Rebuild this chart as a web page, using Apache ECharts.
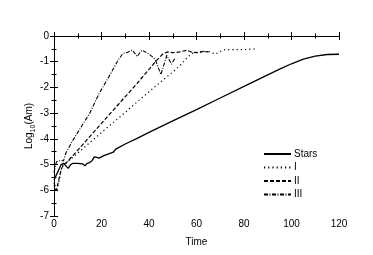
<!DOCTYPE html>
<html><head><meta charset="utf-8">
<script src="https://cdn.jsdelivr.net/npm/echarts@6/dist/echarts.min.js"></script>
<style>html,body{margin:0;padding:0;background:#fff}#c{width:373px;height:255px}</style>
</head><body><div id="c"></div>
<script>
var xTicks = [0, 20, 40, 60, 80, 100, 120];
var yTicks = [-7, -6, -5, -4, -3, -2, -1, 0];

var starsT = [0,1,2,3,4,5,6,7,8,10,12,13,14,15,16,17,18,19,21,23,25,26,27,30,35,40,50,60,70,80,90,95,100,105,110,115,120];
var starsY = [-5.6,-5.4,-5.2,-5.0,-4.95,-5.05,-5.15,-5.0,-4.95,-4.95,-4.97,-5.05,-4.95,-4.92,-4.85,-4.7,-4.72,-4.75,-4.65,-4.58,-4.52,-4.4,-4.35,-4.2,-3.98,-3.75,-3.3,-2.86,-2.41,-1.96,-1.51,-1.29,-1.08,-0.9,-0.78,-0.72,-0.71];

var iT = [0,1,2,3,4,5,10,20,30,35,40,45,48,50,53,56,58,60,62,65,68,70,72,75,80,85];
var iY = [-5.8,-6.05,-5.7,-5.2,-4.95,-4.95,-4.55,-3.75,-2.97,-2.56,-2.17,-1.78,-1.55,-1.4,-1.15,-0.85,-0.68,-0.64,-0.62,-0.6,-0.7,-0.6,-0.53,-0.53,-0.53,-0.5];

var iiT = [0,1,2,3,4,5,10,20,25,30,35,40,43,46,48,50,53,56,58,60,63,65];
var iiY = [-5.7,-6.0,-5.6,-5.2,-5.0,-4.95,-4.44,-3.4,-2.88,-2.36,-1.84,-1.3,-0.97,-0.68,-0.62,-0.65,-0.62,-0.55,-0.63,-0.65,-0.6,-0.62];

var iiiT = [0,1,2,3,4,5,8,11,15,19,23,27,29,31,33,35,37,40,42,43,45,47.5,49.5,51];
var iiiY = [-5.3,-4.9,-4.85,-4.85,-4.85,-4.55,-4.05,-3.6,-3.01,-2.24,-1.6,-0.94,-0.68,-0.63,-0.55,-0.8,-0.55,-0.7,-0.85,-1.0,-1.5,-0.75,-1.1,-0.85];

function pairs(t, y) { return t.map(function (v, i) { return [v, y[i]]; }); }

var font = 'Liberation Sans, Arial, sans-serif';
var axLine = { show: true, lineStyle: { color: '#000', width: 1 } };
var tick = { show: true, inside: true, length: 4, lineStyle: { color: '#000' } };
var minor = { show: true, splitNumber: 2, length: 2.5, lineStyle: { color: '#000' } };

var chart = echarts.init(document.getElementById('c'), null, { renderer: 'canvas' });
chart.setOption({
  animation: false,
  backgroundColor: '#fff',
  grid: { left: 54, right: 34, top: 36, bottom: 39, containLabel: false },
  legend: {
    orient: 'vertical', left: 263, top: 149, padding: 0, itemWidth: 27, itemHeight: 10, itemGap: 3.5,
    itemStyle: { opacity: 0, color: 'rgba(0,0,0,0)', borderWidth: 0 },
    textStyle: { fontFamily: font, fontSize: 10, color: '#000', padding: [0, 0, 0, -2] },
    data: ['Stars', 'I', 'II', 'III']
  },
  xAxis: [{
    type: 'value', min: xTicks[0], max: xTicks[xTicks.length - 1], interval: 20,
    name: 'Time', nameLocation: 'middle', nameGap: 21, nameMoveOverlap: false,
    nameTextStyle: { fontFamily: font, fontSize: 10, color: '#000' },
    axisLine: axLine, axisTick: tick, minorTick: minor, splitLine: { show: false },
    axisLabel: { fontFamily: font, fontSize: 10, color: '#000', margin: 3 }
  }, {
    type: 'value', position: 'top', min: 0, max: 120, interval: 20,
    axisLine: axLine, axisTick: tick, minorTick: minor, splitLine: { show: false },
    axisLabel: { show: false }
  }],
  yAxis: [{
    type: 'value', min: yTicks[0], max: yTicks[yTicks.length - 1], interval: 1,
    name: '{a|Log}{s|10}{a|(Am)}', nameLocation: 'middle', nameGap: 20, nameRotate: 90, nameMoveOverlap: false,
    nameTextStyle: { fontFamily: font, fontSize: 10, color: '#000',
      rich: { a: { fontFamily: font, fontSize: 10, color: '#000' },
              s: { fontFamily: font, fontSize: 7, color: '#000', verticalAlign: 'bottom', padding: [0, 0, -3, 0] } } },
    axisLine: axLine, axisTick: tick, minorTick: minor, splitLine: { show: false },
    axisLabel: { fontFamily: font, fontSize: 10, color: '#000', margin: 5 }
  }, {
    type: 'value', position: 'right', min: -7, max: 0, interval: 1,
    axisLine: axLine, axisTick: tick, minorTick: minor, splitLine: { show: false },
    axisLabel: { show: false }
  }],
  series: [
    { name: 'Stars', type: 'line', data: pairs(starsT, starsY), showSymbol: false, symbol: 'none',
      lineStyle: { color: '#000', width: 1.3, type: 'solid' }, itemStyle: { color: '#000' } },
    { name: 'I', type: 'line', data: pairs(iT, iY), showSymbol: false, symbol: 'none',
      lineStyle: { color: '#000', width: 1.2, type: [1.2, 3] }, itemStyle: { color: '#000' } },
    { name: 'II', type: 'line', data: pairs(iiT, iiY), showSymbol: false, symbol: 'none',
      lineStyle: { color: '#000', width: 1.2, type: [4, 2] }, itemStyle: { color: '#000' } },
    { name: 'III', type: 'line', data: pairs(iiiT, iiiY), showSymbol: false, symbol: 'none',
      lineStyle: { color: '#000', width: 1.1, type: [4, 1.5, 1, 1.5] }, itemStyle: { color: '#000' } }
  ]
});
</script></body></html>
